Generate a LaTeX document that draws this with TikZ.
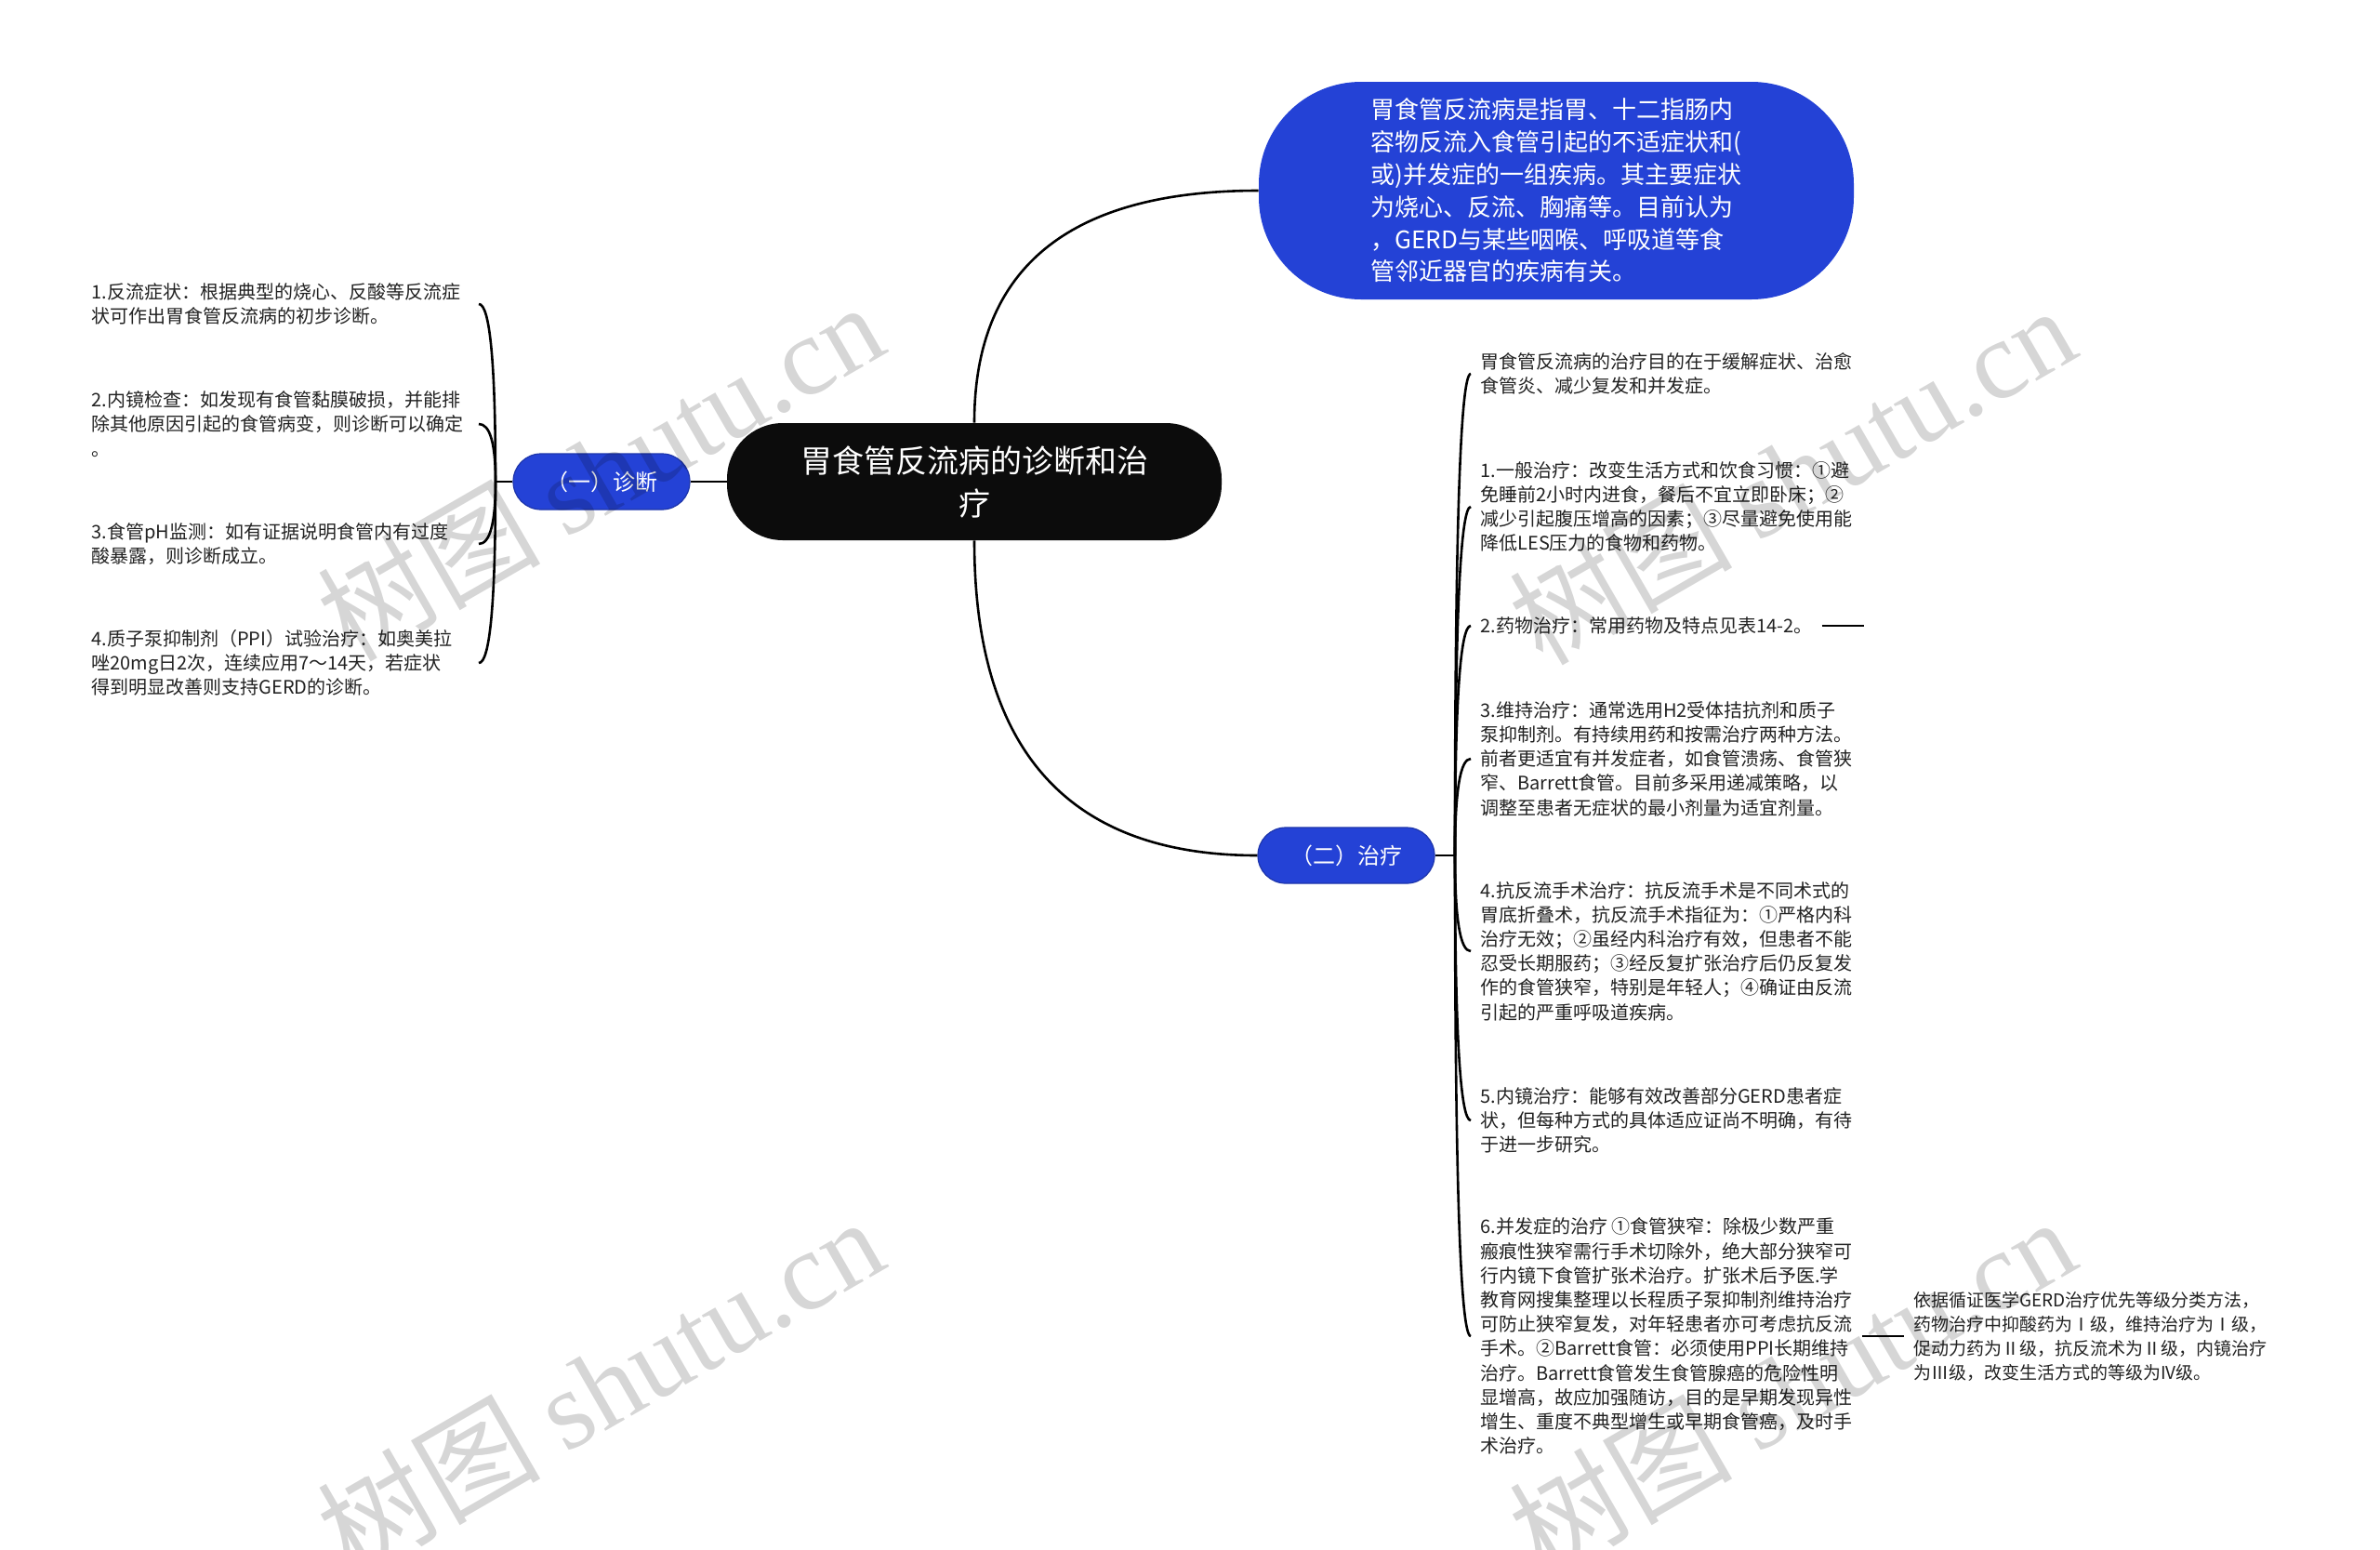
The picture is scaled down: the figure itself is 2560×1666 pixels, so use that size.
\documentclass[tikz,border=0pt]{standalone}
\usepackage{fontspec}
\setmainfont{Noto Sans CJK SC}
\newfontfamily\wmfont{Liberation Serif}
\usetikzlibrary{positioning,calc}
\definecolor{mapblue}{RGB}{36,66,214}
\definecolor{rootblack}{RGB}{12,12,12}
\definecolor{leafgray}{RGB}{34,34,34}
\tikzset{
  root/.style={fill=rootblack,text=white,rounded corners=30pt,minimum width=266pt,minimum height=63pt,align=center,font=\fontsize{17pt}{23pt}\selectfont},
  topic/.style={fill=mapblue,draw=mapblue!80!black,line width=0.6pt,text=white,rounded corners=15pt,minimum width=95pt,minimum height=30pt,font=\fontsize{12pt}{14pt}\selectfont},
  summary/.style={fill=mapblue,text=white,rounded corners=55pt,minimum width=320pt,minimum height=117pt,align=left,font=\fontsize{13pt}{17.4pt}\selectfont},
  leaf/.style={text=leafgray,align=left,inner sep=5pt,font=\fontsize{10pt}{13.1pt}\selectfont},
  link/.style={line width=1.3pt},
  branch/.style={link,to path={.. controls ($(\tikztostart)!0.667!(\tikztostart|-\tikztotarget)$) and ($(\tikztotarget)!0.667!(\tikztostart|-\tikztotarget)$) .. (\tikztotarget)}},
  wmark/.style={text=black,text opacity=0.16,rotate=30,font=\fontsize{60pt}{60pt}\selectfont}
}
\begin{document}
\begin{tikzpicture}[x=0.5pt,y=-0.5pt]
\useasboundingbox (0,0) rectangle (2560,1666);
\fill[white] (0,0) rectangle (2560,1666);
% centre and main topics
\node[root] (root) at (1048,518) {胃食管反流病的诊断和治\\疗};
\node[summary] (sum) at (1674,205) {胃食管反流病是指胃、十二指肠内\\容物反流入食管引起的不适症状和(\\或)并发症的一组疾病。其主要症状\\为烧心、反流、胸痛等。目前认为\\，GERD与某些咽喉、呼吸道等食\\管邻近器官的疾病有关。};
\node[topic] (diag) at (647,518) {（一）诊断};
\node[topic] (treat) at (1448,920) {（二）治疗};
\draw[branch] (root.north) to (sum.west);
\draw[branch] (root.south) to (treat.west);
\draw[link] (root.west) -- (diag.east);
% diagnosis
\coordinate (jd) at (533,518);
\node[leaf,text width=203pt,anchor=east] (d1) at (515,327) {1.反流症状：根据典型的烧心、反酸等反流症\\状可作出胃食管反流病的初步诊断。};
\node[leaf,text width=203pt,anchor=east] (d2) at (515,456) {2.内镜检查：如发现有食管黏膜破损，并能排\\除其他原因引起的食管病变，则诊断可以确定\\。};
\node[leaf,text width=203pt,anchor=east] (d3) at (515,585) {3.食管pH监测：如有证据说明食管内有过度\\酸暴露，则诊断成立。};
\node[leaf,text width=203pt,anchor=east] (d4) at (515,713) {4.质子泵抑制剂（PPI）试验治疗：如奥美拉\\唑20mg日2次，连续应用7～14天，若症状\\得到明显改善则支持GERD的诊断。};
\draw[link] (diag.west) -- (jd);
\foreach \n in {d1,d2,d3,d4} \draw[branch] (jd) to (\n.east);
% treatment
\coordinate (jt) at (1565,920);
\node[leaf,anchor=west] (t0) at (1582,402) {胃食管反流病的治疗目的在于缓解症状、治愈\\食管炎、减少复发和并发症。};
\node[leaf,anchor=west] (t1) at (1582,545) {1.一般治疗：改变生活方式和饮食习惯：①避\\免睡前2小时内进食，餐后不宜立即卧床；②\\减少引起腹压增高的因素；③尽量避免使用能\\降低LES压力的食物和药物。};
\node[leaf,anchor=west] (t2) at (1582,673) {2.药物治疗：常用药物及特点见表14-2。};
\node[leaf,anchor=west] (t3) at (1582,816) {3.维持治疗：通常选用H2受体拮抗剂和质子\\泵抑制剂。有持续用药和按需治疗两种方法。\\前者更适宜有并发症者，如食管溃疡、食管狭\\窄、Barrett食管。目前多采用递减策略，以\\调整至患者无症状的最小剂量为适宜剂量。};
\node[leaf,anchor=west] (t4) at (1582,1023) {4.抗反流手术治疗：抗反流手术是不同术式的\\胃底折叠术，抗反流手术指征为：①严格内科\\治疗无效；②虽经内科治疗有效，但患者不能\\忍受长期服药；③经反复扩张治疗后仍反复发\\作的食管狭窄，特别是年轻人；④确证由反流\\引起的严重呼吸道疾病。};
\node[leaf,anchor=west] (t5) at (1582,1205) {5.内镜治疗：能够有效改善部分GERD患者症\\状，但每种方式的具体适应证尚不明确，有待\\于进一步研究。};
\node[leaf,anchor=west] (t6) at (1582,1437) {6.并发症的治疗 ①食管狭窄：除极少数严重\\瘢痕性狭窄需行手术切除外，绝大部分狭窄可\\行内镜下食管扩张术治疗。扩张术后予医.学\\教育网搜集整理以长程质子泵抑制剂维持治疗\\可防止狭窄复发，对年轻患者亦可考虑抗反流\\手术。②Barrett食管：必须使用PPI长期维持\\治疗。Barrett食管发生食管腺癌的危险性明\\显增高，故应加强随访，目的是早期发现异性\\增生、重度不典型增生或早期食管癌，及时手\\术治疗。};
\node[leaf,anchor=west,font=\fontsize{9.5pt}{13pt}\selectfont] (note) at (2048,1437) {依据循证医学GERD治疗优先等级分类方法，\\药物治疗中抑酸药为Ⅰ级，维持治疗为Ⅰ级，\\促动力药为Ⅱ级，抗反流术为Ⅱ级，内镜治疗\\为Ⅲ级，改变生活方式的等级为IV级。};
\draw[link] (treat.east) -- (jt);
\foreach \n in {t0,t1,t2,t3,t4,t5,t6} \draw[branch] (jt) to (\n.west);
\coordinate (t2end) at (2005,673);
\draw[link] (t2.east) -- (t2end);
\draw[link] (t6.east) -- (note.west);
% watermarks
\node[wmark] (w1) at (645,506) {树图 {\wmfont shutu.cn}};
\node[wmark] (w2) at (1927,510) {树图 {\wmfont shutu.cn}};
\node[wmark] (w3) at (645,1490) {树图 {\wmfont shutu.cn}};
\node[wmark] (w4) at (1927,1490) {树图 {\wmfont shutu.cn}};
\end{tikzpicture}
\end{document}
